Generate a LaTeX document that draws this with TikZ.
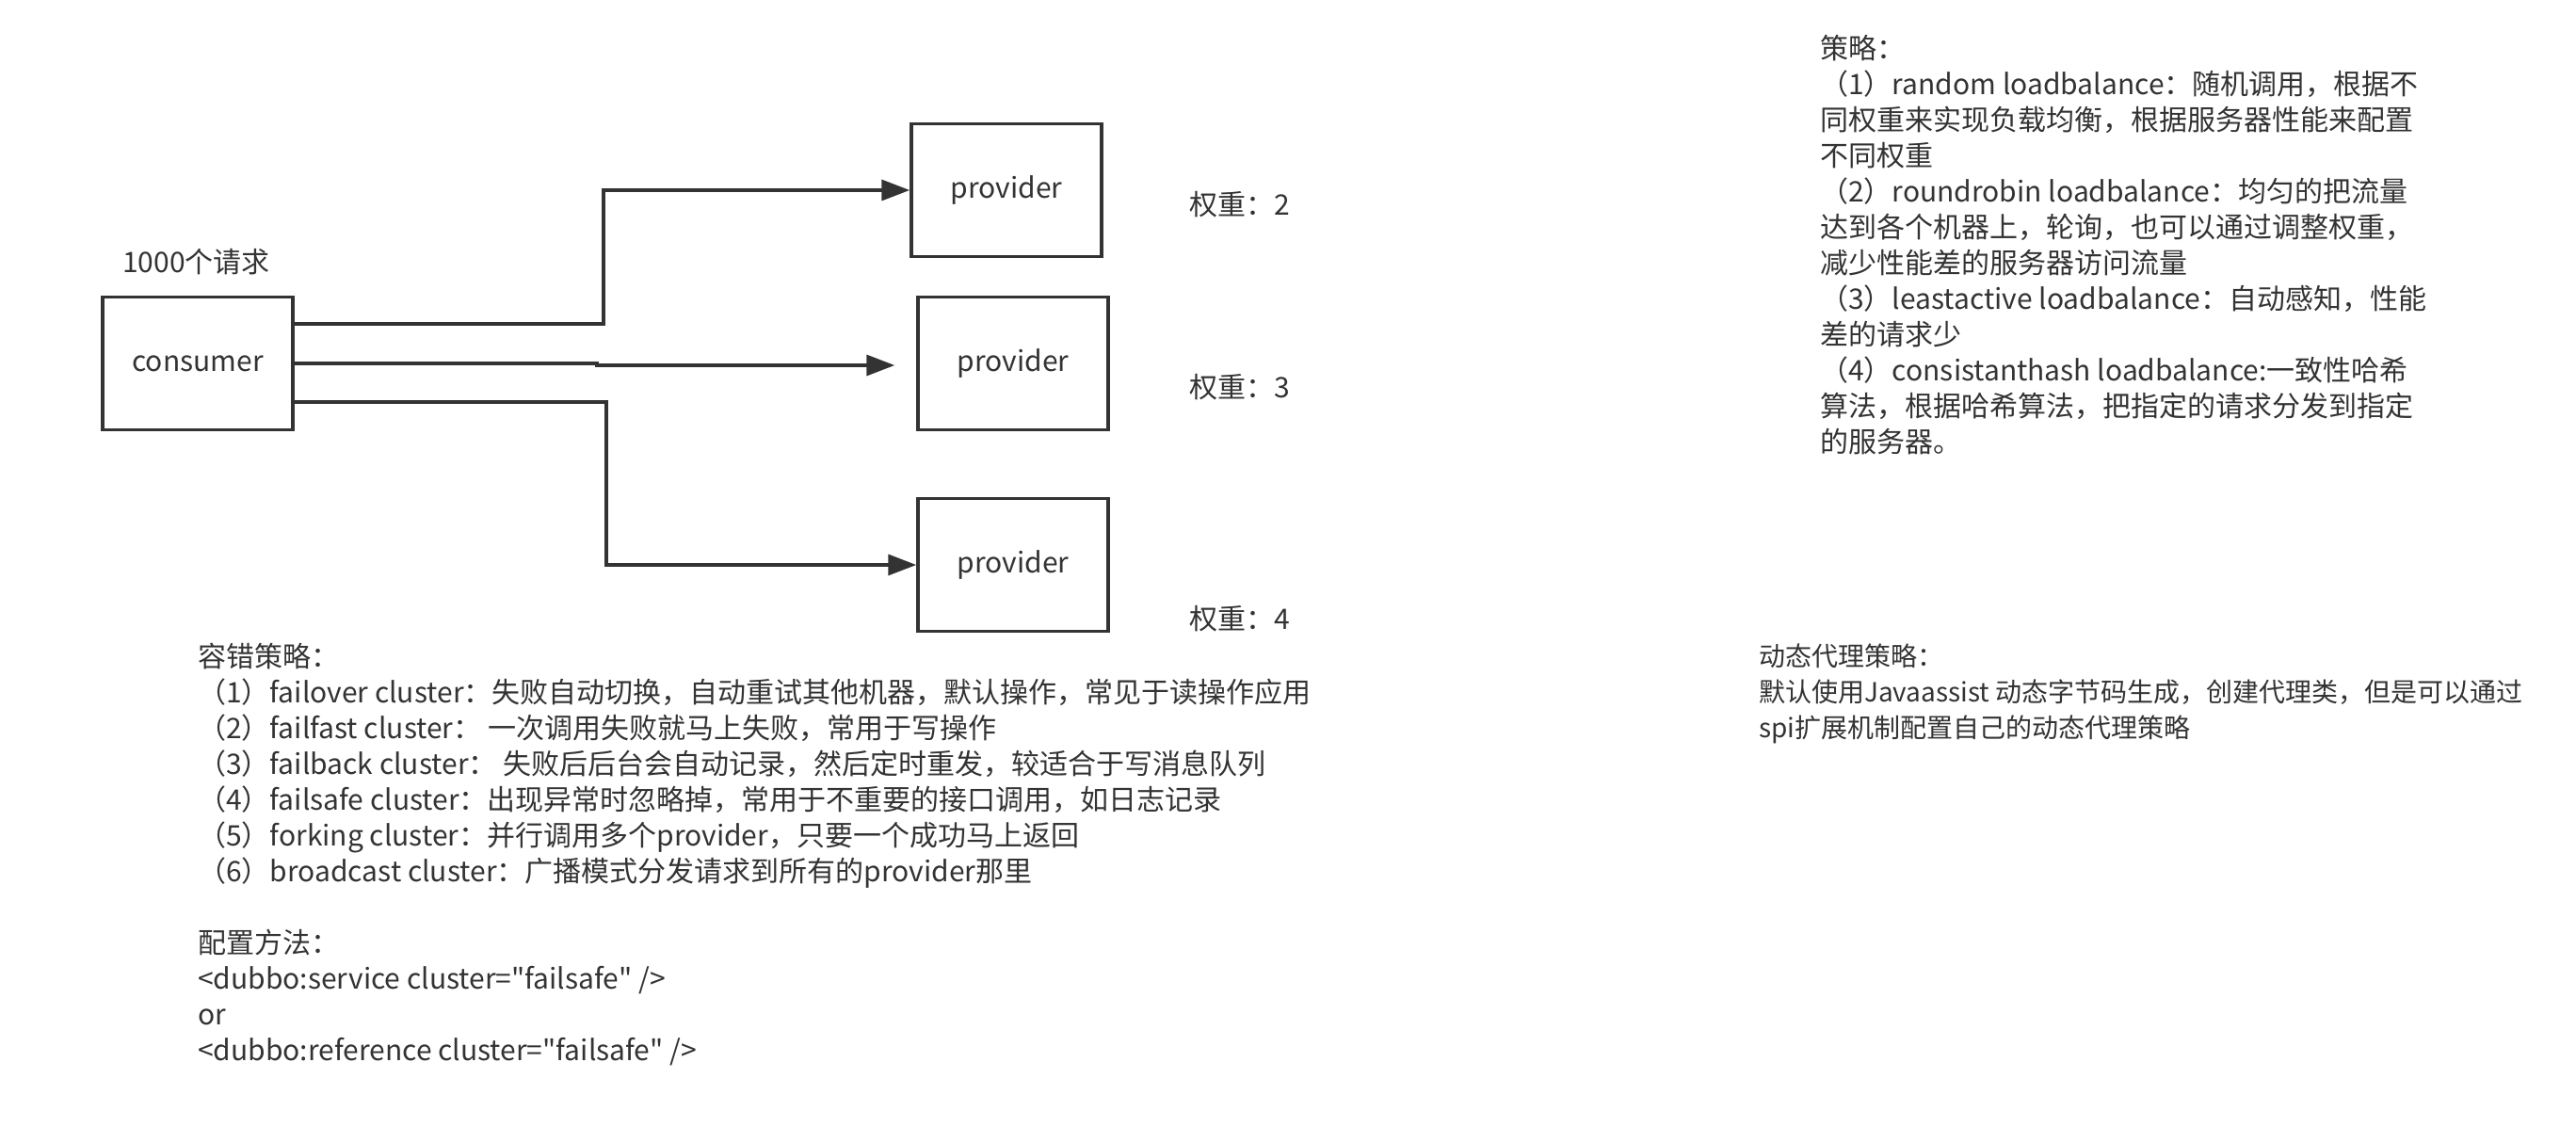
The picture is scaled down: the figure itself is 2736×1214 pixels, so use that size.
\documentclass[tikz,border=0pt]{standalone}
\usepackage{fontspec}
\setmainfont{Noto Sans CJK SC}[Ligatures=TeXOff]
\usetikzlibrary{arrows.meta}
\definecolor{ink}{HTML}{333333}
\begin{document}
\begin{tikzpicture}[x=1pt,y=-1pt,
  every node/.style={text=ink,font={\fontsize{30pt}{38pt}\selectfont}},
  boxnode/.style={draw=ink,line width=3.5pt,minimum width=202pt,minimum height=141pt,inner sep=0pt},
  conn/.style={draw=ink,line width=3.5pt,-{Triangle[length=30pt,width=22pt]}},
  label/.style={anchor=west,inner sep=0pt},
  block/.style={anchor=north west,align=left,inner sep=0pt}]
\path[use as bounding box,fill=white] (0,0) rectangle (2736,1214);

\node[boxnode] (consumer) at (210,386) {consumer};
\node[boxnode] (p1) at (1069,202) {provider};
\node[boxnode] (p2) at (1076,386) {provider};
\node[boxnode] (p3) at (1076,600) {provider};

\node[label] (req) at (130,278) {1000个请求};
\node[label] (w1) at (1263,217) {权重：2};
\node[label] (w2) at (1263,411) {权重：3};
\node[label] (w3) at (1263,657) {权重：4};

\draw[conn] ([yshift=42pt]consumer.east) -- ++(328pt,0) |- (p1.west);
\draw[conn] (consumer.east) -- ++(321pt,0) -- ++(0,-2pt) -- ([xshift=-23pt,yshift=-2pt]p2.west);
\draw[conn] ([yshift=-41pt]consumer.east) -- ++(331pt,0) |- (p3.west);

\node[block] (lb) at (1933,37) {策略：\\
（1）random loadbalance：随机调用，根据不\\
同权重来实现负载均衡，根据服务器性能来配置\\
不同权重\\
（2）roundrobin loadbalance：均匀的把流量\\
达到各个机器上，轮询，也可以通过调整权重，\\
减少性能差的服务器访问流量\\
（3）leastactive loadbalance：自动感知，性能\\
差的请求少\\
（4）consistanthash loadbalance:一致性哈希\\
算法，根据哈希算法，把指定的请求分发到指定\\
的服务器。};

\node[block] (ft) at (210,683) {容错策略：\\
（1）failover cluster：失败自动切换，自动重试其他机器，默认操作，常见于读操作应用\\
（2）failfast cluster： 一次调用失败就马上失败，常用于写操作\\
（3）failback cluster： 失败后后台会自动记录，然后定时重发，较适合于写消息队列\\
（4）failsafe cluster：出现异常时忽略掉，常用于不重要的接口调用，如日志记录\\
（5）forking cluster：并行调用多个provider，只要一个成功马上返回\\
（6）broadcast cluster：广播模式分发请求到所有的provider那里\\[38pt]
配置方法：\\
<dubbo:service cluster="failsafe" />\\
or\\
<dubbo:reference cluster="failsafe" />};

\node[block,font={\fontsize{28pt}{38pt}\selectfont}] (dp) at (1868,684) {动态代理策略：\\
默认使用Javaassist 动态字节码生成，创建代理类，但是可以通过\\
spi扩展机制配置自己的动态代理策略};
\end{tikzpicture}
\end{document}
